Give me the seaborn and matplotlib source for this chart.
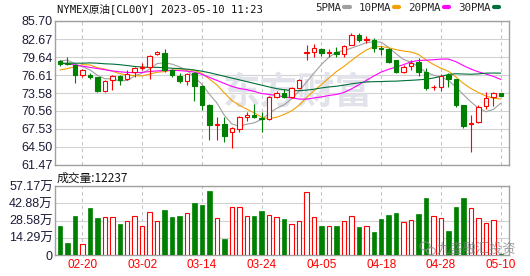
import numpy as np
import pandas as pd
import matplotlib
matplotlib.use("Agg")
import matplotlib.pyplot as plt
from matplotlib.lines import Line2D
from matplotlib.patches import Ellipse
import seaborn as sns

# ---------------- data ----------------
dates = ["02-15", "02-16", "02-17", "02-20", "02-21", "02-22", "02-23", "02-24", "02-27", "02-28",
         "03-01", "03-02", "03-03", "03-06", "03-07", "03-08", "03-09", "03-10", "03-13", "03-14",
         "03-15", "03-16", "03-17", "03-20", "03-21", "03-22", "03-23", "03-24", "03-27", "03-28",
         "03-29", "03-30", "03-31", "04-03", "04-04", "04-05", "04-06", "04-10", "04-11", "04-12",
         "04-13", "04-14", "04-17", "04-18", "04-19", "04-20", "04-21", "04-24", "04-25", "04-26",
         "04-27", "04-28", "05-01", "05-02", "05-03", "05-04", "05-05", "05-08", "05-09", "05-10"]

open_ = [78.9, 78.7, 78.3, 76.6, 76.6, 76.2, 73.9, 75.8, 76.45, 75.9,
         77.05, 77.85, 78.0, 80.1, 80.3, 77.5, 76.45, 75.65, 77.0, 74.8,
         71.6, 68.15, 68.3, 66.95, 67.6, 69.5, 69.9, 69.45, 69.2, 72.95,
         73.55, 72.95, 74.5, 80.3, 80.55, 80.95, 80.3, 80.55, 80.15, 81.65,
         83.35, 82.55, 82.5, 81.15, 81.0, 79.15, 77.15, 78.1, 78.85, 77.2,
         74.55, 74.6, 76.65, 75.9, 71.55, 68.4, 68.75, 71.4, 72.95, 73.55]
high = [79.2, 79.6, 78.4, 77.6, 77.0, 76.3, 75.7, 76.6, 76.6, 77.5,
        78.0, 78.6, 80.0, 80.6, 81.0, 77.7, 77.0, 77.0, 77.2, 75.0,
        71.7, 69.6, 69.6, 67.8, 69.7, 70.45, 71.7, 70.45, 73.0, 73.9,
        74.3, 74.6, 76.0, 81.7, 81.9, 81.2, 80.95, 81.4, 81.6, 83.75,
        83.6, 83.2, 82.9, 81.5, 81.1, 79.2, 78.3, 79.15, 79.4, 77.8,
        74.95, 76.8, 76.9, 76.0, 71.6, 69.9, 71.55, 73.75, 73.8, 73.6]
low = [78.1, 78.3, 75.3, 76.2, 75.9, 73.8, 73.7, 74.1, 74.9, 75.7,
       76.3, 77.5, 75.9, 80.0, 77.2, 76.2, 75.3, 74.9, 72.3, 70.7,
       65.7, 65.7, 65.4, 64.4, 67.0, 68.9, 69.3, 67.0, 69.05, 72.7,
       72.8, 72.7, 74.4, 79.1, 79.7, 79.8, 79.7, 79.7, 79.6, 81.6,
       82.2, 81.95, 80.55, 80.0, 78.6, 77.0, 76.9, 77.45, 76.5, 74.1,
       74.1, 73.95, 74.65, 71.3, 67.65, 63.6, 68.5, 70.9, 71.4, 73.1]
close = [78.5, 78.5, 76.6, 77.5, 76.35, 73.9, 75.6, 76.45, 75.8, 76.7,
         77.75, 77.95, 79.8, 80.45, 77.4, 76.6, 75.65, 76.75, 74.8, 71.5,
         68.2, 68.3, 66.3, 67.65, 69.5, 69.9, 69.5, 69.2, 72.85, 73.55,
         72.95, 74.4, 75.8, 80.4, 81.1, 80.3, 80.4, 80.15, 81.5, 83.35,
         82.5, 82.7, 81.1, 81.05, 78.85, 77.15, 78.0, 78.7, 77.15, 74.4,
         74.65, 76.45, 75.9, 71.55, 67.95, 68.6, 71.3, 72.7, 73.55, 73.15]

ma5 = [79.0, 79.1, 78.5, 78.0, 77.49, 76.57, 75.99, 75.96, 75.62, 75.69,
       76.46, 76.93, 77.60, 78.53, 78.67, 78.44, 77.98, 77.37, 76.24, 75.06,
       73.38, 71.91, 69.82, 68.39, 67.99, 68.33, 68.57, 69.15, 70.19, 71.00,
       71.61, 72.59, 73.91, 75.42, 76.93, 78.40, 79.60, 80.47, 80.69, 81.14,
       81.58, 82.04, 82.23, 82.14, 81.24, 80.17, 79.23, 78.75, 77.97, 77.08,
       76.58, 76.27, 75.71, 74.59, 73.30, 72.09, 71.06, 70.42, 70.82, 71.86]
ma10 = [77.45, 77.70, 78.00, 78.35, 78.30, 77.85, 77.60, 77.25, 76.85, 76.59,
        76.52, 76.46, 76.78, 77.08, 77.18, 77.45, 77.46, 77.49, 77.39, 76.87,
        75.91, 74.95, 73.60, 72.32, 71.53, 70.86, 70.24, 69.49, 69.29, 69.50,
        69.97, 70.58, 71.53, 72.81, 73.97, 75.01, 76.10, 77.19, 78.06, 79.04,
        79.99, 80.82, 81.35, 81.42, 81.19, 80.88, 80.64, 80.49, 80.06, 79.16,
        78.38, 77.75, 77.23, 76.28, 75.19, 74.34, 73.67, 73.07, 72.71, 72.58]
ma20 = [78.6, 78.5, 78.3, 78.1, 77.9, 77.7, 77.5, 77.3, 77.15, 77.05,
        77.0, 77.05, 77.2, 77.3, 77.35, 77.4, 77.35, 77.25, 77.1, 76.73,
        76.21, 75.70, 75.19, 74.70, 74.35, 74.15, 73.85, 73.49, 73.34, 73.18,
        72.94, 72.76, 72.56, 72.56, 72.75, 72.93, 73.17, 73.34, 73.67, 74.27,
        74.98, 75.70, 76.44, 77.11, 77.58, 77.94, 78.37, 78.84, 79.06, 79.10,
        79.18, 79.29, 79.29, 78.85, 78.19, 77.61, 77.15, 76.78, 76.38, 75.87]
ma30 = [78.6, 78.6, 78.6, 78.6, 78.65, 78.6, 78.5, 78.45, 78.35, 78.2,
        78.05, 77.95, 77.9, 77.9, 77.85, 77.75, 77.7, 77.6, 77.45, 77.25,
        77.0, 76.7, 76.4, 76.1, 75.8, 75.5, 75.2, 74.9, 74.6, 74.32,
        74.13, 74.0, 73.97, 74.07, 74.22, 74.44, 74.60, 74.72, 74.91, 75.13,
        75.29, 75.45, 75.49, 75.51, 75.56, 75.58, 75.66, 75.72, 75.80, 75.90,
        76.11, 76.38, 76.70, 76.83, 76.78, 76.74, 76.80, 76.92, 76.94, 76.93]

# volume in 万
volume = [24.0, 10.2, 32.3, 8.8, 39.2, 30.4, 31.2, 31.2, 25.7, 28.2,
          32.3, 24.0, 35.4, 28.2, 37.3, 31.2, 32.3, 34.5, 43.4, 41.4,
          53.0, 30.4, 13.3, 39.5, 39.5, 32.3, 32.3, 36.5, 33.1, 31.2,
          29.6, 25.4, 28.2, 51.9, 31.2, 24.0, 24.0, 24.0, 28.2, 32.3,
          23.2, 24.0, 19.1, 29.8, 33.1, 35.1, 27.3, 29.0, 34.0, 47.2,
          32.3, 30.4, 20.2, 39.8, 47.2, 38.7, 30.4, 26.3, 29.0, 1.2237]

price_ticks = [61.47, 64.50, 67.53, 70.56, 73.58, 76.61, 79.64, 82.67, 85.70]
volume_ticks = [0, 14.29, 28.58, 42.88, 57.17]
x_tick_labels = ["02-20", "03-02", "03-14", "03-24", "04-05", "04-18", "04-28", "05-10"]

ma_names = ["5PMA", "10PMA", "20PMA", "30PMA"]
title_text = "NYMEX原油[CL00Y] 2023-05-10 11:23"
volume_title = "成交量:12237"

# ---------------- styling ----------------
sns.set_theme(style="white")
plt.rcParams["font.family"] = ["Liberation Sans", "Noto Sans CJK SC", "DejaVu Sans"]

RED = "#ff0000"
GREEN = "#008000"
MA_COLORS = ["#a0a0a0", "#f2a000", "#ff00ff", "#00703a"]
GRID = "#d2d2d2"
BORDER = "#a0a0a0"
LABEL = "#1c1c38"

n = len(close)
pos = np.arange(n)
o = np.array(open_)
c = np.array(close)
up = c >= o

fig = plt.figure(figsize=(5.30, 2.76), dpi=100)
ax1 = fig.add_axes([55 / 530, 1 - 165 / 276, 454 / 530, 144 / 276])
ax2 = fig.add_axes([55 / 530, 1 - 255 / 276, 454 / 530, 69 / 276])

xlim = (-0.67, 60.1)
tick_pos = [dates.index(d) for d in x_tick_labels]

# ---------- price panel ----------
ax1.text(0.535, 0.50, "东方财富", transform=ax1.transAxes, ha="center", va="center",
         fontsize=27, fontweight="bold", color="#e2e2ea", family=["Noto Sans CJK SC"], zorder=0.6)

for vals, col in zip([ma5, ma10, ma20, ma30], MA_COLORS):
    sns.lineplot(x=pos, y=vals, color=col, linewidth=0.8, ax=ax1, zorder=4, legend=False)

cols = np.where(up, RED, GREEN)
faces = np.where(up, "white", GREEN)
ax1.vlines(pos, low, high, colors=cols, linewidth=0.8, zorder=5)
body_h = np.maximum(np.abs(c - o), 0.02)
ax1.bar(pos, body_h, bottom=np.minimum(o, c), width=0.6, color=faces,
        edgecolor=cols, linewidth=0.8, zorder=6)

ax1.set_xlim(*xlim)
ax1.set_ylim(price_ticks[0], price_ticks[-1])
ax1.set_yticks(price_ticks)
ax1.set_yticklabels([f"{v:.2f}" for v in price_ticks])
ax1.set_xticks(tick_pos)
ax1.set_xticklabels([])
ax1.set_xlabel("")
ax1.set_ylabel("")
ax1.grid(axis="y", color=GRID, linewidth=0.8, linestyle="-")
ax1.grid(axis="x", color="#c4c4c4", linewidth=0.8, linestyle=(0, (3, 3)))
ax1.set_axisbelow(True)
ax1.tick_params(axis="y", length=0, pad=1.6, labelsize=9, labelcolor=LABEL)
ax1.tick_params(axis="x", length=0)
for s in ax1.spines.values():
    s.set_color(BORDER)
    s.set_linewidth(1.0)
    s.set_visible(True)

# ---------- volume panel ----------
df = pd.DataFrame({"pos": pos, "vol": volume, "up": up})
sns.barplot(data=df[df["up"]], x="pos", y="vol", native_scale=True, color="white",
            edgecolor=RED, linewidth=0.8, width=0.6, saturation=1, errorbar=None, ax=ax2, zorder=3)
sns.barplot(data=df[~df["up"]], x="pos", y="vol", native_scale=True, color=GREEN,
            edgecolor=GREEN, linewidth=0.5, width=0.6, saturation=1, errorbar=None, ax=ax2, zorder=3)

ax2.set_xlim(*xlim)
ax2.set_ylim(volume_ticks[0], volume_ticks[-1])
ax2.set_yticks(volume_ticks)
ax2.set_yticklabels(["0" if v == 0 else f"{v:.2f}万" for v in volume_ticks])
ax2.set_xticks(tick_pos)
ax2.set_xticklabels(x_tick_labels)
ax2.set_xlabel("")
ax2.set_ylabel("")
ax2.grid(axis="y", color=GRID, linewidth=0.8, linestyle="-")
ax2.grid(axis="x", color="#c4c4c4", linewidth=0.8, linestyle=(0, (3, 3)))
ax2.set_axisbelow(True)
ax2.tick_params(axis="y", length=0, pad=1.6, labelsize=9, labelcolor=LABEL)
ax2.tick_params(axis="x", length=0, pad=3, labelsize=8.5, labelcolor=RED)
for s in ax2.spines.values():
    s.set_color(BORDER)
    s.set_linewidth(1.0)
    s.set_visible(True)

# ---------- header texts ----------
mono = ["DejaVu Sans Mono", "Noto Sans CJK SC"]
fig.text(57 / 530, 1 - 9 / 276, title_text, ha="left", va="center",
         fontsize=7.6, color="#111111", family=mono)

handles = [Line2D([], [], color=col, linewidth=3) for col in MA_COLORS]
fig.legend(handles, ma_names, loc="center right", bbox_to_anchor=(499 / 530, 1 - 8 / 276),
           bbox_transform=fig.transFigure, ncol=4, frameon=False, markerfirst=False,
           handlelength=0.5, handletextpad=0.25, columnspacing=0.85, borderpad=0,
           borderaxespad=0, prop={"family": "DejaVu Sans Mono", "size": 7.8})

fig.text(57 / 530, 1 - 178 / 276, volume_title, ha="left", va="center",
         fontsize=8.5, color="#111111", family=["Noto Sans CJK SC"])

# image watermark (bottom right): wechat-like icon + account name
for cx, cy, w, h in [(425, 246, 10, 8), (431, 251, 9, 7)]:
    fig.add_artist(Ellipse((cx / 530, 1 - cy / 276), w / 530, h / 276, transform=fig.transFigure,
                           facecolor="none", edgecolor="#8a8a8a", alpha=0.7, linewidth=0.9, zorder=20))
fig.text(437 / 530, 1 - 249 / 276, "九盛融汇投资", ha="left", va="center",
         fontsize=9.5, color="#808080", alpha=0.75, family=["Noto Sans CJK SC"], zorder=20)

fig.savefig("out.png", dpi=100)
